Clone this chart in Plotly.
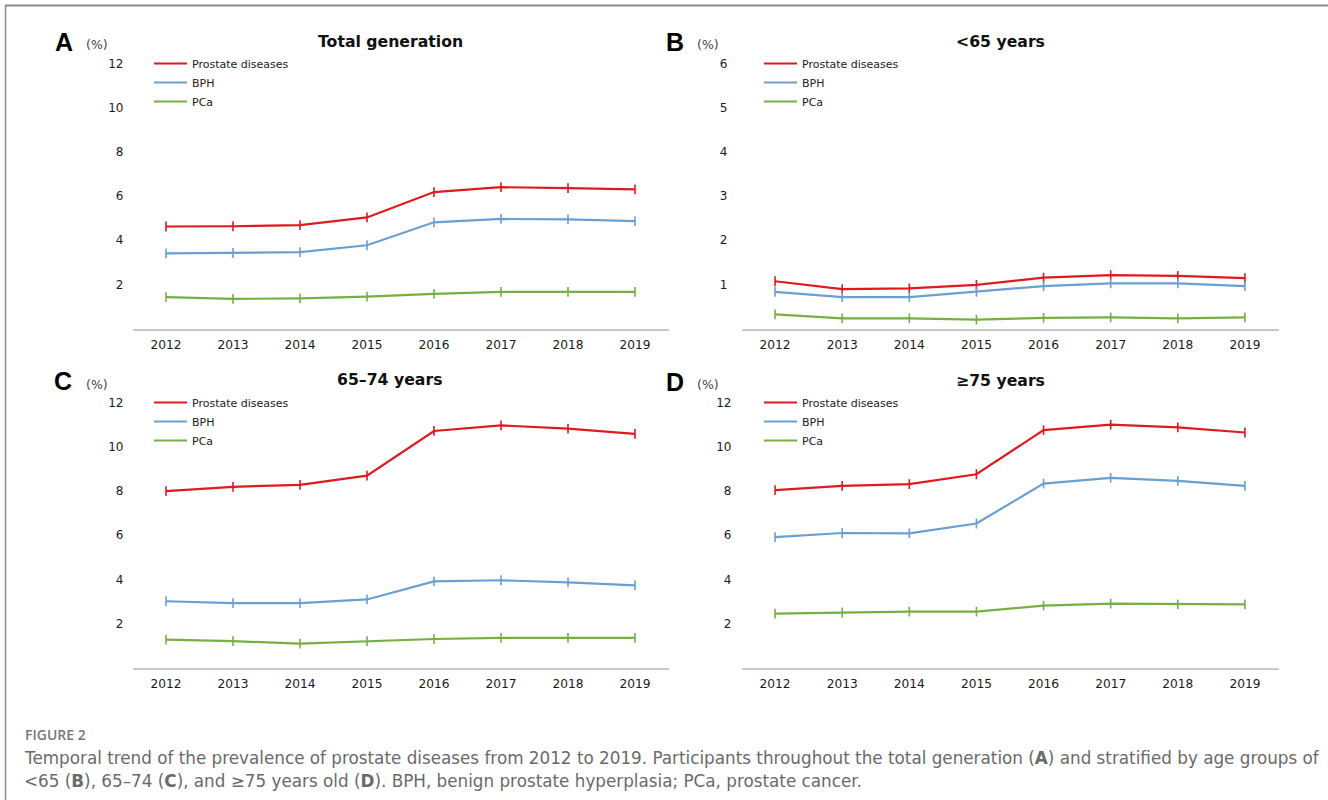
import plotly.graph_objects as go

W, H = 1328, 800

# ---------------- data ----------------
years = [2012, 2013, 2014, 2015, 2016, 2017, 2018, 2019]
series_names = ["Prostate diseases", "BPH", "PCa"]

A_prostate = [4.62, 4.63, 4.68, 5.03, 6.18, 6.40, 6.36, 6.30]
A_bph = [3.40, 3.42, 3.46, 3.77, 4.81, 4.96, 4.94, 4.86]
A_pca = [1.42, 1.34, 1.36, 1.44, 1.57, 1.66, 1.66, 1.66]

B_prostate = [1.07, 0.89, 0.91, 0.99, 1.15, 1.21, 1.19, 1.14]
B_bph = [0.83, 0.71, 0.71, 0.83, 0.96, 1.02, 1.02, 0.96]
B_pca = [0.32, 0.23, 0.23, 0.20, 0.24, 0.25, 0.23, 0.25]

C_prostate = [8.00, 8.19, 8.28, 8.70, 10.72, 10.97, 10.83, 10.59]
C_bph = [3.01, 2.92, 2.92, 3.09, 3.91, 3.96, 3.86, 3.73]
C_pca = [1.27, 1.20, 1.09, 1.20, 1.30, 1.35, 1.35, 1.35]

D_prostate = [8.04, 8.23, 8.31, 8.76, 10.76, 11.01, 10.88, 10.65]
D_bph = [5.91, 6.10, 6.08, 6.53, 8.34, 8.60, 8.46, 8.23]
D_pca = [2.45, 2.50, 2.54, 2.54, 2.81, 2.90, 2.87, 2.87]

panel_letters = ["A", "B", "C", "D"]
panel_titles = ["Total generation", "<65 years", "65\u201374 years", "\u226575 years"]
yticks_big = [2, 4, 6, 8, 10, 12]
yticks_small = [1, 2, 3, 4, 5, 6]

caption_head = "FIGURE 2"
caption_l1 = ("Temporal trend of the prevalence of prostate diseases from 2012 to 2019. "
              "Participants throughout the total generation (<b>A</b>) and stratified by age groups of")
caption_l2 = ("&lt;65 (<b>B</b>), 65\u201374 (<b>C</b>), and \u226575 years old (<b>D</b>). "
              "BPH, benign prostate hyperplasia; PCa, prostate cancer.")

# ---------------- styling ----------------
colors = ["#df1a1e", "#6a9fd4", "#76b043"]
FONT = "DejaVu Sans"


def px(x):
    return x / W


def py(y):
    return 1 - y / H


panels = [
    dict(data=[A_prostate, A_bph, A_pca], ymax=12, yticks=yticks_big,
         x0=132.5, x1=668.5, ytop=63.5, ybot=328.5, standoff=8,
         letter_xy=(64, 42), pct_xy=(97, 44), title_xy=(390, 42), leg_xy=(149, 49)),
    dict(data=[B_prostate, B_bph, B_pca], ymax=6, yticks=yticks_small,
         x0=741.5, x1=1278.5, ytop=63.5, ybot=328.5, standoff=13,
         letter_xy=(675, 42), pct_xy=(708, 44), title_xy=(1000, 42), leg_xy=(759, 49)),
    dict(data=[C_prostate, C_bph, C_pca], ymax=12, yticks=yticks_big,
         x0=132.5, x1=668.5, ytop=402.7, ybot=667.7, standoff=8,
         letter_xy=(63, 381), pct_xy=(97, 384), title_xy=(390, 379), leg_xy=(149, 388)),
    dict(data=[D_prostate, D_bph, D_pca], ymax=12, yticks=yticks_big,
         x0=741.5, x1=1278.5, ytop=402.7, ybot=667.7, standoff=9,
         letter_xy=(675, 382), pct_xy=(708, 384), title_xy=(1000, 380), leg_xy=(759, 388)),
]

fig = go.Figure()
layout = dict(
    width=W, height=H,
    margin=dict(l=0, r=0, t=0, b=0, autoexpand=False),
    paper_bgcolor="white", plot_bgcolor="white",
    showlegend=True,
    font=dict(family=FONT, color="#222"),
)
annotations = []

for i, p in enumerate(panels):
    n = "" if i == 0 else str(i + 1)
    xa, ya = "x" + n, "y" + n
    leg = "legend" + n
    for s, (name, vals) in enumerate(zip(series_names, p["data"])):
        fig.add_trace(go.Scatter(
            x=years, y=vals, mode="lines", name=name,
            line=dict(color=colors[s], width=2.2),
            xaxis=xa, yaxis=ya, legend=leg, hoverinfo="skip",
        ))
        fig.add_trace(go.Scatter(
            x=years, y=vals, mode="markers", showlegend=False,
            marker=dict(symbol="line-ns", size=7,
                        line=dict(color=colors[s], width=1.6)),
            xaxis=xa, yaxis=ya, hoverinfo="skip",
        ))
    layout["xaxis" + n] = dict(
        domain=[px(p["x0"]), px(p["x1"])], range=[2011.5, 2019.5],
        anchor=ya, tickvals=years, ticktext=[str(y) for y in years],
        showline=True, linecolor="#c9c9c9", linewidth=1.5,
        showgrid=False, zeroline=False, ticks="", automargin=False,
        ticklabelstandoff=4,
        tickfont=dict(family=FONT, size=12.2, color="#1a1a1a"),
    )
    layout["yaxis" + n] = dict(
        domain=[py(p["ybot"]), py(p["ytop"])], range=[0, p["ymax"]],
        anchor=xa, tickvals=p["yticks"], showline=False, showgrid=False,
        zeroline=False, ticks="", automargin=False,
        ticklabelstandoff=p["standoff"],
        tickfont=dict(family=FONT, size=12, color="#1a1a1a"),
    )
    lx, ly = p["leg_xy"]
    layout[leg] = dict(
        x=px(lx), y=py(ly), xanchor="left", yanchor="top",
        bgcolor="rgba(0,0,0,0)", borderwidth=0,
        font=dict(family=FONT, size=11, color="#222"),
        itemwidth=33, tracegroupgap=0,
    )
    # panel letter, unit label, title
    annotations.append(dict(
        x=px(p["letter_xy"][0]), y=py(p["letter_xy"][1]), xref="paper", yref="paper",
        text="<b>" + panel_letters[i] + "</b>", showarrow=False,
        xanchor="center", yanchor="middle",
        font=dict(family="Liberation Sans", size=25, color="#000")))
    annotations.append(dict(
        x=px(p["pct_xy"][0]), y=py(p["pct_xy"][1]), xref="paper", yref="paper",
        text="(%)", showarrow=False, xanchor="center", yanchor="middle",
        font=dict(family=FONT, size=12.5, color="#444")))
    annotations.append(dict(
        x=px(p["title_xy"][0]), y=py(p["title_xy"][1]), xref="paper", yref="paper",
        text="<b>" + panel_titles[i].replace("<", "&lt;") + "</b>", showarrow=False,
        xanchor="center", yanchor="middle",
        font=dict(family=FONT, size=15.7, color="#111")))

# caption
annotations.append(dict(
    x=px(23), y=py(734), xref="paper", yref="paper", text=caption_head,
    showarrow=False, xanchor="left", yanchor="middle",
    font=dict(family="Open Sans", size=14, color="#777", weight=600)))
annotations.append(dict(
    x=px(22), y=py(758), xref="paper", yref="paper", text=caption_l1,
    showarrow=False, xanchor="left", yanchor="middle",
    font=dict(family="DejaVu Sans", size=16.8, color="#6a6a6a")))
annotations.append(dict(
    x=px(22), y=py(781), xref="paper", yref="paper", text=caption_l2,
    showarrow=False, xanchor="left", yanchor="middle",
    font=dict(family="DejaVu Sans", size=16.8, color="#6a6a6a")))

layout["annotations"] = annotations
layout["shapes"] = [
    dict(type="line", xref="paper", yref="paper", x0=px(5), x1=1, y0=py(5.5), y1=py(5.5),
         line=dict(color="#8c8c8c", width=2)),
    dict(type="line", xref="paper", yref="paper", x0=px(5.5), x1=px(5.5), y0=py(5), y1=0,
         line=dict(color="#8c8c8c", width=1.5)),
]

fig.update_layout(**layout)

pin = ("document.body.style.margin='0px';document.body.style.padding='0px';"
       "var gd=document.getElementById('{plot_id}');"
       "gd.style.position='absolute';gd.style.left='0px';gd.style.top='0px';")
fig.write_html("out.html", post_script=pin, config={"displayModeBar": False})
